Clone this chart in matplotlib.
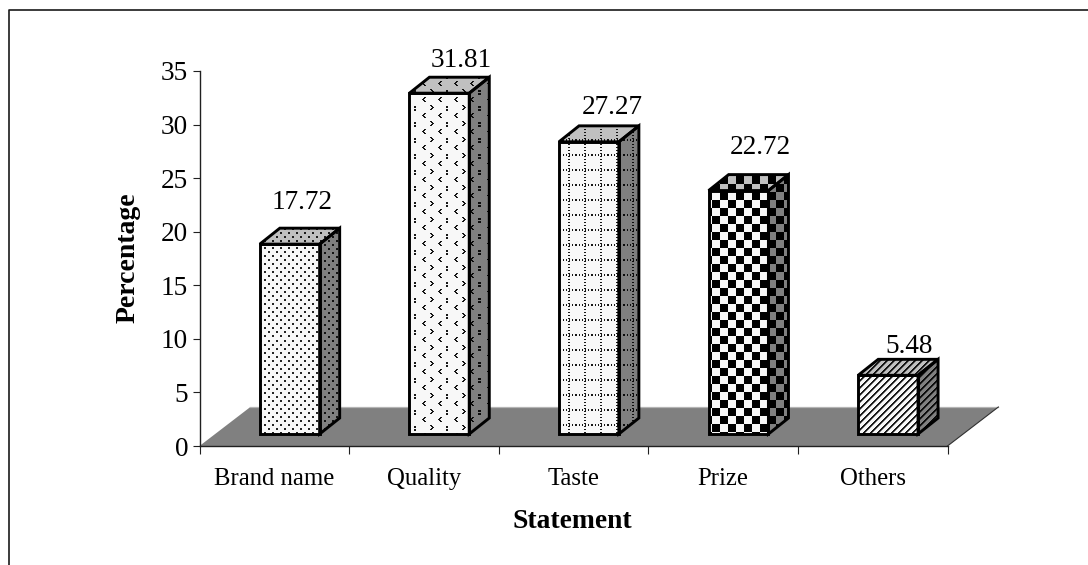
import matplotlib
matplotlib.use("Agg")
import matplotlib.pyplot as plt
import numpy as np
from matplotlib.lines import Line2D
from matplotlib.patches import Polygon

plt.rcParams['font.family'] = ['Liberation Serif', 'DejaVu Serif']

categories = ["Brand name", "Quality", "Taste", "Prize", "Others"]
percentages = [17.72, 31.81, 27.27, 22.72, 5.48]
y_ticks = [0, 5, 10, 15, 20, 25, 30, 35]

# fake 3D layout, in category widths and percentage units
bar_left = 0.403
bar_width = 0.40
lift = 1.12
depth_x = 0.134
depth_y = 1.49
floor_x = 0.34
floor_y = 3.64

# value label offsets from the front top centre of each bar, in pixels
label_dx = [12, 22, 23, 22, 21]
label_dy = [42, 33, 34, 43, 29]

W, H = 1088, 565


def dots_tile():
    t = np.zeros((8, 8))
    t[0:2, 0:2] = 0.85
    t[4:6, 4:6] = 0.85
    return t


def arrows_tile():
    t = np.zeros((16, 32))
    left = [(0, 2), (1, 1), (2, 0), (3, 1), (4, 2)]
    right = [(0, 0), (1, 1), (2, 2), (3, 1), (4, 0)]
    for r, c in left:
        t[r + 1, c + 6:c + 8] = 0.9
        t[r + 1, c + 22:c + 24] = 0.9
    for r, c in right:
        t[r + 9, c + 14:c + 16] = 0.9
    # the small colon in between
    t[10:12, 30:32] = 0.9
    t[13:15, 30:32] = 0.9
    return t


def grid_tile():
    t = np.zeros((15, 16))
    t[4, ::3] = 0.9
    t[5, ::3] = 0.9
    t[::3, 8] = 0.9
    t[::3, 9] = 0.9
    return t


def checker_tile():
    t = np.zeros((16, 16))
    t[0:8, 0:8] = 1
    t[8:16, 8:16] = 1
    return t


def stripes_tile():
    r, c = np.indices((7, 7))
    t = np.zeros((7, 7))
    t[(r + c) % 7 < 2] = 0.9
    t[(r + c) % 7 == 2] = 0.45
    return t


tiles = [dots_tile(), arrows_tile(), grid_tile(), checker_tile(), stripes_tile()]

fig = plt.figure(figsize=(W / 100, H / 100), dpi=100)
ax = fig.add_axes([199.5 / W, 1 - 446 / H, 748 / W, 375 / H])
ax.set_xlim(0, 5)
ax.set_ylim(0, 35)
ax.patch.set_alpha(0)


def fill_face(points, tile, shade, zorder):
    # pattern stays aligned to the pixel grid, so it is not skewed on the slanted faces
    pts = np.array(points)
    px = ax.transData.transform(pts)
    x0, y0 = np.floor(px.min(axis=0)).astype(int)
    x1, y1 = np.ceil(px.max(axis=0)).astype(int)
    cols = np.arange(x0, x1)
    rows = H - 1 - np.arange(y1 - 1, y0 - 1, -1)
    rr, cc = np.meshgrid(rows % tile.shape[0], cols % tile.shape[1], indexing='ij')
    img = shade * (1 - tile[rr, cc])
    (ex0, ey0), (ex1, ey1) = ax.transData.inverted().transform([(x0, y0), (x1, y1)])
    im = ax.imshow(img, cmap='gray', vmin=0, vmax=1, extent=(ex0, ex1, ey0, ey1),
                   aspect='auto', interpolation='nearest', zorder=zorder, clip_on=True)
    poly = Polygon(pts, closed=True, transform=ax.transData)
    im.set_clip_path(poly)


# grey floor behind the bars
floor = Polygon([(0, 0), (5, 0), (5 + floor_x, floor_y), (floor_x, floor_y)],
                closed=True, fc='#808080', ec='none', zorder=1, clip_on=False)
ax.add_patch(floor)
ax.plot([floor_x, 5 + floor_x], [floor_y, floor_y], color='#b4b4b4', lw=0.9, zorder=1.1, clip_on=False)
ax.plot([5, 5 + floor_x], [0, floor_y], color='#303030', lw=0.8, zorder=1.1, clip_on=False)

for i, value in enumerate(percentages):
    x0 = i + bar_left
    x1 = x0 + bar_width
    y0 = lift
    y1 = lift + value
    front = [(x0, y0), (x1, y0), (x1, y1), (x0, y1)]
    top = [(x0, y1), (x1, y1), (x1 + depth_x, y1 + depth_y), (x0 + depth_x, y1 + depth_y)]
    side = [(x1, y0), (x1 + depth_x, y0 + depth_y), (x1 + depth_x, y1 + depth_y), (x1, y1)]
    fill_face(side, tiles[i], 0.5, 2)
    fill_face(top, tiles[i], 0.75, 2)
    fill_face(front, tiles[i], 0.97, 2)
    for face in (side, top, front):
        ax.add_patch(Polygon(face, closed=True, fc='none', ec='black', lw=2.1,
                             joinstyle='miter', zorder=3))
    ax.annotate(f"{value:.2f}", xy=(x0 + bar_width / 2, y1),
                xytext=(label_dx[i] * 0.72, label_dy[i] * 0.72),
                textcoords='offset points', ha='center', va='center',
                fontsize=19.6, color='black', zorder=4)

ax.set_xlim(0, 5)
ax.set_ylim(0, 35)

for s in ('top', 'right'):
    ax.spines[s].set_visible(False)
for s in ('left', 'bottom'):
    ax.spines[s].set_color('#202020')
    ax.spines[s].set_linewidth(1.0)
    ax.spines[s].set_zorder(5)

ax.set_yticks(y_ticks)
ax.tick_params(axis='y', length=5.2, width=0.8, color='#202020', labelsize=19.6, pad=3)
ax.set_xticks(range(6))
ax.set_xticklabels([])
ax.tick_params(axis='x', which='major', length=6, width=0.8, color='#202020')
ax.set_xticks(np.arange(5) + 0.5, labels=categories, minor=True)
ax.tick_params(axis='x', which='minor', length=0, labelsize=17.8, pad=15.5)

ax.set_xlabel("Statement", fontsize=19.8, fontweight='bold')
ax.xaxis.set_label_coords((572 - 199.5) / 748, (446 - 521) / 375)
ax.xaxis.label.set_va('center')
ax.set_ylabel("Percentage", fontsize=20, fontweight='bold')
ax.yaxis.set_label_coords((128 - 199.5) / 748, (446 - 258) / 375)
ax.yaxis.label.set_va('center')

# only the top and left sides of the outer frame are drawn
fig.add_artist(Line2D([8.5 / W, 8.5 / W, 1], [0, 1 - 10 / H, 1 - 10 / H],
                      color='#1a1a1a', lw=1.2, transform=fig.transFigure))

fig.savefig("out.png", dpi=100)
